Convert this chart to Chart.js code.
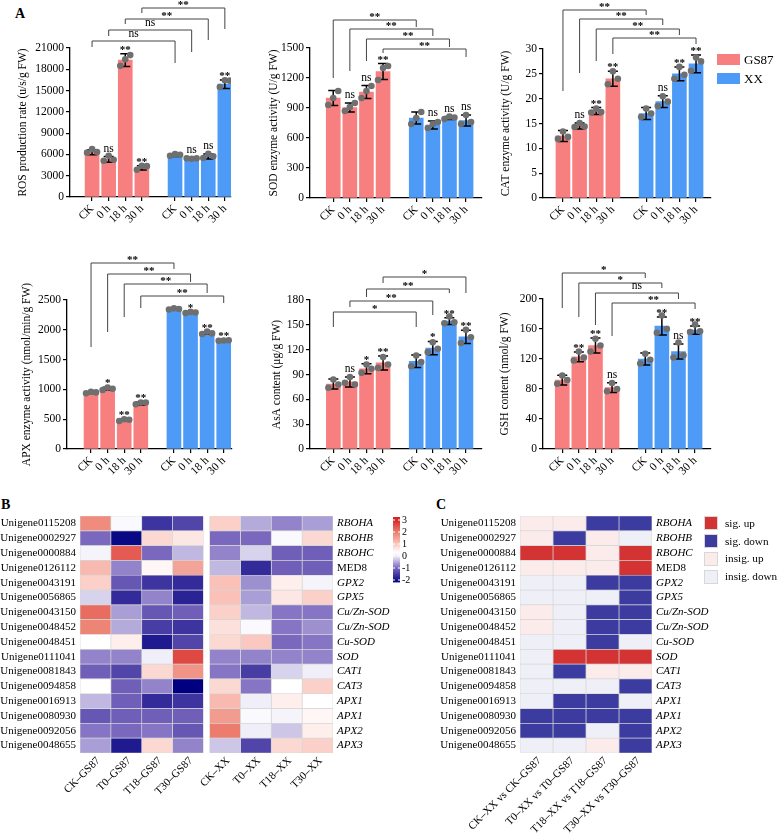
<!DOCTYPE html>
<html>
<head>
<meta charset="utf-8">
<script src="https://cdn.jsdelivr.net/npm/chart.js@4.4.1/dist/chart.umd.min.js"></script>
<style>
  body { margin: 0; background: #fff; }
  #page { position: relative; width: 778px; height: 834px; overflow: hidden; font-family: "Liberation Serif", serif; color: #000; background: #fff; }
  canvas { position: absolute; }
  .tag { position: absolute; font-weight: bold; font-size: 14px; }
  .lg { position: absolute; font-size: 13px; line-height: 13px; }
  .sw { position: absolute; }
  .lc { position: absolute; font-size: 11.2px; line-height: 14px; white-space: nowrap; }
  .lcs { position: absolute; width: 12px; height: 12px; border: 1px solid #d8d8d8; }
</style>
</head>
<body>
<div id="page">
  <div class="tag" style="left:15px;top:6px">A</div>
  <div class="tag" style="left:1px;top:497px">B</div>
  <div class="tag" style="left:436px;top:497px">C</div>

  <canvas id="ros" width="255" height="250" style="left:0;top:0"></canvas>
  <canvas id="sod" width="255" height="250" style="left:255px;top:0"></canvas>
  <canvas id="cat" width="220" height="250" style="left:495px;top:0"></canvas>
  <canvas id="apx" width="255" height="245" style="left:0;top:250px"></canvas>
  <canvas id="asa" width="255" height="245" style="left:255px;top:250px"></canvas>
  <canvas id="gsh" width="220" height="245" style="left:495px;top:250px"></canvas>
  <canvas id="hmB" width="425" height="339" style="left:0;top:495px"></canvas>
  <canvas id="hmC" width="353" height="339" style="left:425px;top:495px"></canvas>

  <div class="sw" style="left:717px;top:54px;width:23px;height:11px;background:#f77f7f"></div>
  <div class="lg" style="left:744px;top:53px">GS87</div>
  <div class="sw" style="left:717px;top:73px;width:23px;height:11px;background:#4e9bf7"></div>
  <div class="lg" style="left:744px;top:72px">XX</div>

  <div class="lcs" style="left:704px;top:516px;background:#d43333"></div>
  <div class="lc" style="left:725px;top:516px">sig. up</div>
  <div class="lcs" style="left:704px;top:534px;background:#3b3ba0"></div>
  <div class="lc" style="left:725px;top:534px">sig. down</div>
  <div class="lcs" style="left:704px;top:552px;background:#fbeceb"></div>
  <div class="lc" style="left:725px;top:551px">insig. up</div>
  <div class="lcs" style="left:704px;top:570px;background:#eff0f7"></div>
  <div class="lc" style="left:725px;top:569px">insig. down</div>
</div>

<script>
// ---- panel A data ----
const TIMES = ["CK", "0 h", "18 h", "30 h", "CK", "0 h", "18 h", "30 h"];
const GROUPS = ["GS87", "XX"];
const PAIRS = [[0, 4], [1, 5], [2, 6], [3, 7]];

const ROS_MEAN = [6300, 5300, 19300, 4100, 5850, 5400, 5700, 15900];
const ROS_SD = [350, 400, 900, 300, 150, 80, 350, 600];
const ROS_REPS = [[6250, 6750, 6350], [5100, 5800, 5250], [18500, 19400, 20000], [3850, 4400, 4350],
  [5800, 6050, 5950], [5450, 5380, 5450], [5500, 6100, 5750], [15500, 16450, 16400]];
const ROS_SIG = ["", "ns", "**", "**", "", "ns", "ns", "**"];
const ROS_BR = ["ns", "ns", "**", "**"];

const SOD_MEAN = [1000, 905, 1060, 1265, 800, 730, 800, 775];
const SOD_SD = [75, 45, 65, 80, 60, 40, 15, 55];
const SOD_REPS = [[930, 1000, 1070], [870, 910, 950], [1000, 1070, 1120], [1180, 1300, 1320],
  [740, 800, 860], [700, 740, 760], [790, 815, 805], [740, 830, 760]];
const SOD_SIG = ["", "ns", "ns", "**", "", "ns", "ns", "ns"];
const SOD_BR = ["**", "**", "**", "**"];

const CAT_MEAN = [12.5, 14.5, 17.5, 24.0, 17.0, 19.4, 25.0, 27.0];
const CAT_SD = [1.1, 0.6, 0.7, 1.5, 1.2, 1.2, 1.4, 1.8];
const CAT_REPS = [[11.9, 13.4, 12.3], [14.3, 15.1, 14.4], [17.2, 18.0, 17.3], [22.9, 25.5, 24.0],
  [16.3, 18.0, 17.0], [18.5, 20.5, 19.4], [24.0, 26.4, 24.8], [25.6, 28.3, 27.5]];
const CAT_SIG = ["", "ns", "**", "**", "", "ns", "**", "**"];
const CAT_BR = ["**", "**", "**", "**"];

const APX_MEAN = [945, 1010, 485, 765, 2350, 2290, 1945, 1820];
const APX_SD = [15, 25, 20, 25, 12, 12, 20, 5];
const APX_REPS = [[935, 960, 950], [990, 1030, 1010], [470, 500, 490], [750, 780, 780],
  [2340, 2360, 2350], [2280, 2300, 2290], [1930, 1970, 1940], [1815, 1820, 1825]];
const APX_SIG = ["", "*", "**", "**", "", "*", "**", "**"];
const APX_BR = ["**", "**", "**", "**"];

const ASA_MEAN = [78.5, 81, 97, 104, 106, 122, 154.5, 135.5];
const ASA_SD = [6, 6, 6, 8.5, 7.5, 8, 4, 8];
const ASA_REPS = [[74, 84, 78], [80, 87, 78], [92, 102, 97], [98, 111, 102],
  [100, 113, 105], [117, 129, 121], [152, 160, 153], [128, 144, 135]];
const ASA_SIG = ["", "ns", "*", "**", "", "*", "**", "**"];
const ASA_BR = ["*", "**", "**", "*"];

const GSH_MEAN = [92, 123, 138, 82, 120, 164, 130, 158.5];
const GSH_SD = [6.5, 6.5, 10, 6.5, 8, 12, 10, 5.5];
const GSH_REPS = [[87, 98, 92], [118, 130, 122], [130, 147, 138], [77, 88, 80],
  [114, 127, 119], [155, 178, 160], [122, 142, 125], [156, 166, 157]];
const GSH_SIG = ["", "**", "**", "ns", "", "**", "ns", "**"];
const GSH_BR = ["*", "*", "ns", "**"];

// ---- panel B / C data ----
const GENE_IDS = ["Unigene0115208", "Unigene0002927", "Unigene0000884", "Unigene0126112", "Unigene0043191",
  "Unigene0056865", "Unigene0043150", "Unigene0048452", "Unigene0048451", "Unigene0111041", "Unigene0081843",
  "Unigene0094858", "Unigene0016913", "Unigene0080930", "Unigene0092056", "Unigene0048655"];
const GENE_NAMES = ["RBOHA", "RBOHB", "RBOHC", "MED8", "GPX2", "GPX5", "Cu/Zn-SOD", "Cu/Zn-SOD", "Cu-SOD",
  "SOD", "CAT1", "CAT3", "APX1", "APX1", "APX2", "APX3"];

const B_LABELS = ["CK–GS87", "T0–GS87", "T18–GS87", "T30–GS87", "CK–XX", "T0–XX", "T18–XX", "T30–XX"];
const CK_GS87 = [1.8, -1.0, 0.1, 1.2, 0.9, -0.2, 2.2, 1.9, 0.3, -0.8, -1.1, 0.3, -0.4, -1.2, -0.9, -0.6];
const T0_GS87 = [0.2, -2.1, 2.4, -0.8, -1.2, -1.7, -0.6, -0.5, 0.5, -0.8, -1.4, -1.1, -1.1, -1.1, -1.0, -1.9];
const T18_GS87 = [-1.6, 0.8, -1.0, 0.4, -1.6, -0.8, -1.2, -1.5, -1.9, 0.0, 0.8, -0.8, -1.7, -1.1, -0.9, 0.8];
const T30_GS87 = [-1.4, 0.6, -0.4, 1.5, -1.7, -1.8, -1.1, -1.6, -1.4, 2.6, 1.7, -2.2, -1.6, -1.1, -1.2, -0.8];
const CK_XX = [0.9, -1.0, -0.8, -0.4, 1.1, 1.1, 0.9, 0.7, 0.8, -0.8, -0.9, 0.8, 1.2, 1.6, 2.0, -0.3];
const T0_XX = [-0.5, -1.0, -0.2, -1.7, -0.7, -0.6, -0.4, 0.2, 1.0, -0.8, -1.5, -0.9, 0.0, 0.2, 0.0, -1.4];
const T18_XX = [-0.8, 0.2, -1.1, -1.1, 0.5, 0.6, -0.9, -0.9, -1.0, -0.8, -0.2, 0.3, 0.5, 0.1, -0.3, 0.8];
const T30_XX = [-0.6, 0.8, -1.1, -1.1, 0.1, 0.9, -0.9, -0.7, -0.9, -0.8, 0.0, 0.9, 0.3, 0.4, 0.5, 0.9];
const COLORBAR_TICKS = [3, 2, 1, 0, -1, -2];

// 2 sig. up, -2 sig. down, 1 insig. up, -1 insig. down
const C_LABELS = ["CK–XX vs CK–GS87", "T0–XX vs T0–GS87", "T18–XX vs T18–GS87", "T30–XX vs T30–GS87"];
const C_CK = [1, 1, 2, 1, -1, -1, 1, 1, -1, -1, -1, -1, -1, -2, -2, -1];
const C_T0 = [1, -2, 2, 1, -1, -1, -1, -1, -1, 2, -2, -1, -2, -2, -2, -1];
const C_T18 = [-2, 1, 1, 1, -2, -1, -2, -2, -2, 2, 1, -1, -2, -2, -1, 1];
const C_T30 = [-2, -1, 2, 2, -2, -2, -2, -2, -1, 2, 1, -2, -1, -2, -2, -2];

// ---- styles ----
const FONT = "'Liberation Serif', serif";
const GS_COLOR = "#f77f7f";
const XX_COLOR = "#4e9bf7";
const DOT_COLOR = "#6f6f6f";
const SLOT = [0, 1, 2, 3, 5, 6, 7, 8];
const JITTER = [-0.3, 0, 0.3];
const C_COLORS = { "2": "#d43333", "-2": "#3b3ba0", "1": "#fbeceb", "-1": "#eff0f7" };
const HEAT_STOPS = [[-2.2, [0, 0, 128]], [-1, [122, 104, 190]], [0, [240, 238, 248]], [0.3, [255, 255, 255]],
  [1, [250, 200, 192]], [2, [236, 125, 110]], [3, [214, 39, 40]]];

Chart.defaults.font.family = FONT;
Chart.defaults.color = "#000";
Chart.defaults.animation = false;

function heat(v) {
  if (v <= HEAT_STOPS[0][0]) return "rgb(" + HEAT_STOPS[0][1].join(",") + ")";
  for (let i = 1; i < HEAT_STOPS.length; i++) {
    const [v1, c1] = HEAT_STOPS[i];
    const [v0, c0] = HEAT_STOPS[i - 1];
    if (v <= v1) {
      const t = (v - v0) / (v1 - v0);
      return "rgb(" + c0.map((c, k) => Math.round(c + (c1[k] - c) * t)).join(",") + ")";
    }
  }
  return "rgb(" + HEAT_STOPS[HEAT_STOPS.length - 1][1].join(",") + ")";
}

// layout of each bar panel: canvas box, chart area, y-scale width, x range, bracket geometry
const PANELS = {
  ros: { box: [0, 0, 255, 250], area: [70, 48, 231, 197], yW: 54, xMin: -1.33, xMax: 8.37, max: 21000, step: 3000,
    title: "ROS production rate (u/s/g FW)", mean: ROS_MEAN, sd: ROS_SD, reps: ROS_REPS, sig: ROS_SIG, br: ROS_BR,
    geo: [[-7, -1, 15], [-18, -12, 4], [-29, -24, -8], [-40, -35, -19]] },
  sod: { box: [255, 0, 255, 250], area: [310, 48, 482, 198], yW: 43, xMin: -1.4, xMax: 8.96, max: 1500, step: 300,
    title: "SOD enzyme activity (U/g FW)", mean: SOD_MEAN, sd: SOD_SD, reps: SOD_REPS, sig: SOD_SIG, br: SOD_BR,
    geo: [[-28, 30, -21], [-19, 23, -12], [-9, 13, -1], [1, 5, 9]] },
  cat: { box: [495, 0, 220, 250], area: [543, 49, 712, 198], yW: 44, xMin: -1.2, xMax: 8.9, max: 30, step: 5,
    title: "CAT enzyme activity (U/g FW)", mean: CAT_MEAN, sd: CAT_SD, reps: CAT_REPS, sig: CAT_SIG, br: CAT_BR,
    geo: [[-39, 42, -34], [-30, 24, -24], [-20, 12, -14], [-11, 5, -5]] },
  apx: { box: [0, 250, 255, 245], area: [67, 300, 232, 449], yW: 47, xMin: -1.45, xMax: 8.5, max: 2500, step: 500,
    title: "APX enzyme activity (nmol/min/g FW)", mean: APX_MEAN, sd: APX_SD, reps: APX_REPS, sig: APX_SIG, br: APX_BR,
    geo: [[-37, 47, -31], [-26, 32, -18], [-16, 17, -7], [-4, 8, 3]] },
  asa: { box: [255, 250, 255, 245], area: [310, 300, 482, 449], yW: 40, xMin: -1.41, xMax: 8.97, max: 180, step: 30,
    title: "AsA content (μg/g FW)", mean: ASA_MEAN, sd: ASA_SD, reps: ASA_REPS, sig: ASA_SIG, br: ASA_BR,
    geo: [[12, 27, 27], [1, 7, 15], [-11, -3, -7], [-23, -17, -7]] },
  gsh: { box: [495, 250, 220, 245], area: [543, 299, 712, 449], yW: 45, xMin: -1.16, xMax: 8.96, max: 200, step: 40,
    title: "GSH content (nmol/g FW)", mean: GSH_MEAN, sd: GSH_SD, reps: GSH_REPS, sig: GSH_SIG, br: GSH_BR,
    geo: [[-26, 9, -21], [-16, 18, -11], [-6, 26, 0], [4, 37, 10]] },
};
const X_H = 40;

function drawLabel(ctx, text, x, y) {
  // y is the line or error-bar top the label sits on
  if (text.indexOf("*") >= 0) {
    ctx.font = "bold 11px " + FONT;
    ctx.fillText(text, x, y + 1);
  } else {
    ctx.font = "11.5px " + FONT;
    ctx.fillText(text, x, y - 3);
  }
}

const annotPlugin = {
  id: "annot",
  afterDatasetDraw(chart, args) {
    if (args.meta.type !== "bar") return;
    const p = PANELS[chart.canvas.id];
    const ctx = chart.ctx, ys = chart.scales.y;
    const off = args.index * 4;
    ctx.save();
    ctx.strokeStyle = "#000";
    ctx.lineWidth = 1.5;
    args.meta.data.forEach((el, j) => {
      const m = p.mean[off + j], s = p.sd[off + j];
      const top = ys.getPixelForValue(m + s), bot = ys.getPixelForValue(m - s);
      ctx.beginPath();
      ctx.moveTo(el.x, top); ctx.lineTo(el.x, bot);
      ctx.moveTo(el.x - 5, top); ctx.lineTo(el.x + 5, top);
      ctx.moveTo(el.x - 5, bot); ctx.lineTo(el.x + 5, bot);
      ctx.stroke();
    });
    ctx.restore();
  },
  afterDatasetsDraw(chart) {
    const p = PANELS[chart.canvas.id];
    const ctx = chart.ctx, xs = chart.scales.x, ys = chart.scales.y;
    const top = chart.chartArea.top;
    ctx.save();
    ctx.fillStyle = "#000";
    ctx.textAlign = "center";
    ctx.textBaseline = "alphabetic";
    p.sig.forEach((t, i) => {
      if (!t) return;
      const x = xs.getPixelForValue(SLOT[i]);
      const y = ys.getPixelForValue(p.mean[i] + p.sd[i]);
      drawLabel(ctx, t, x, y - 2);
    });
    ctx.strokeStyle = "#444";
    ctx.lineWidth = 1;
    PAIRS.forEach(([a, b], k) => {
      const [ly, la, lb] = p.geo[k];
      const x1 = xs.getPixelForValue(SLOT[a]), x2 = xs.getPixelForValue(SLOT[b]);
      ctx.beginPath();
      ctx.moveTo(x1, top + la);
      ctx.lineTo(x1, top + ly);
      ctx.lineTo(x2, top + ly);
      ctx.lineTo(x2, top + lb);
      ctx.stroke();
      drawLabel(ctx, p.br[k], (x1 + x2) / 2, top + ly - 1);
    });
    ctx.restore();
  },
};

function barPanel(id) {
  const p = PANELS[id];
  const [bx, by, bw, bh] = p.box;
  const [l, t, r, b] = p.area;
  const dots = [];
  p.reps.forEach((reps, i) => reps.forEach((v, k) => dots.push({ x: SLOT[i] + JITTER[k], y: v })));

  new Chart(document.getElementById(id), {
    type: "bar",
    data: {
      datasets: [
        { label: GROUPS[0], data: p.mean.slice(0, 4).map((v, i) => ({ x: SLOT[i], y: v })),
          backgroundColor: GS_COLOR, grouped: false, barThickness: 14, order: 2 },
        { label: GROUPS[1], data: p.mean.slice(4).map((v, i) => ({ x: SLOT[i + 4], y: v })),
          backgroundColor: XX_COLOR, grouped: false, barThickness: 14, order: 2 },
        { type: "scatter", data: dots, backgroundColor: DOT_COLOR, borderWidth: 0, pointRadius: 3.3, order: 1 },
      ],
    },
    options: {
      responsive: false,
      layout: { padding: { left: l - bx - p.yW, top: t - by, right: bx + bw - r, bottom: by + bh - b - X_H } },
      plugins: { legend: { display: false }, tooltip: { enabled: false } },
      scales: {
        x: {
          type: "linear", min: p.xMin, max: p.xMax, offset: false,
          afterBuildTicks: (s) => { s.ticks = SLOT.map((v) => ({ value: v })); },
          afterFit: (s) => { s.height = X_H; s.paddingLeft = 0; s.paddingRight = 0; },
          ticks: { callback: (v, i) => TIMES[i], autoSkip: false, minRotation: 45, maxRotation: 45,
            font: { size: 11.5 }, color: "#000", padding: 1 },
          grid: { drawOnChartArea: false, offset: false, tickLength: 4, color: "#000", lineWidth: 1.2 },
          border: { color: "#000", width: 1.3 },
        },
        y: {
          min: 0, max: p.max,
          afterFit: (s) => { s.width = p.yW; },
          ticks: { stepSize: p.step, callback: (v) => String(v), font: { size: 11.5 }, color: "#000", padding: 2 },
          grid: { drawOnChartArea: false, tickLength: 4, color: "#000", lineWidth: 1.2 },
          border: { color: "#000", width: 1.3 },
          title: { display: true, text: p.title, font: { size: 11.5 }, color: "#000", padding: 0 },
        },
      },
    },
    plugins: [annotPlugin],
  });
}

Object.keys(PANELS).forEach(barPanel);

// ---- heatmaps ----
const B_COLUMNS = [CK_GS87, T0_GS87, T18_GS87, T30_GS87, CK_XX, T0_XX, T18_XX, T30_XX];
const B_GAP = 0.2;
const C_COLUMNS = [C_CK, C_T0, C_T18, C_T30];
const HEAT_XLABELS = { hmB: B_LABELS, hmC: C_LABELS };

const colorbarPlugin = {
  id: "colorbar",
  afterDraw(chart) {
    const ctx = chart.ctx;
    const x = 393, w = 7, y0 = 25, unit = 12; // value 3 sits at y0
    const vTop = 3.25, vBot = -2.2;
    const top = y0 - (vTop - 3) * unit, bot = y0 + (3 - vBot) * unit;
    const g = ctx.createLinearGradient(0, top, 0, bot);
    for (let k = 0; k <= 40; k++) {
      const v = vTop - (vTop - vBot) * k / 40;
      g.addColorStop(k / 40, heat(v));
    }
    ctx.save();
    ctx.fillStyle = g;
    ctx.fillRect(x, top, w, bot - top);
    ctx.strokeStyle = "#fff";
    ctx.lineWidth = 1;
    ctx.fillStyle = "#000";
    ctx.font = "10px " + FONT;
    ctx.textBaseline = "middle";
    COLORBAR_TICKS.forEach((v) => {
      const y = y0 + (3 - v) * unit;
      ctx.beginPath();
      ctx.moveTo(x, y); ctx.lineTo(x + 2, y);
      ctx.moveTo(x + w - 2, y); ctx.lineTo(x + w, y);
      ctx.stroke();
      ctx.fillText(String(v), x + w + 2, y);
    });
    ctx.restore();
  },
};

// rotated column labels, anchored just under each column centre
const colLabelPlugin = {
  id: "colLabels",
  afterDraw(chart) {
    const labels = HEAT_XLABELS[chart.canvas.id];
    const xs = chart.scales.x, ctx = chart.ctx;
    const bottom = chart.chartArea.bottom;
    ctx.save();
    ctx.fillStyle = "#000";
    ctx.font = "11px " + FONT;
    ctx.textAlign = "right";
    ctx.textBaseline = "middle";
    xs.ticks.forEach((t, i) => {
      ctx.save();
      ctx.translate(xs.getPixelForValue(t.value) + 3, bottom + 6);
      ctx.rotate(-Math.PI / 4);
      ctx.fillText(labels[i], 0, 0);
      ctx.restore();
    });
    ctx.restore();
  },
};

function heatScales(xMax, tickPos, leftW, rightW) {
  return {
    x: {
      type: "linear", min: 0, max: xMax,
      afterBuildTicks: (s) => { s.ticks = tickPos.map((v) => ({ value: v })); },
      afterFit: (s) => { s.height = 70; s.paddingLeft = 0; s.paddingRight = 0; },
      ticks: { display: false },
      grid: { display: false, drawTicks: false },
      border: { display: false },
    },
    y: {
      type: "category", offset: true,
      afterFit: (s) => { s.width = leftW; },
      ticks: { autoSkip: false, font: { size: 11 }, color: "#000", padding: 4 },
      grid: { display: false, drawTicks: false },
      border: { display: false },
    },
    y2: {
      type: "category", labels: GENE_NAMES, position: "right", offset: true,
      afterFit: (s) => { s.width = rightW; },
      ticks: { autoSkip: false, color: "#000", padding: 4,
        font: (c) => ({ size: 11, family: FONT, style: GENE_NAMES[c.index] === "MED8" ? "normal" : "italic" }) },
      grid: { display: false, drawTicks: false },
      border: { display: false },
    },
  };
}

const heatBar = { grouped: false, barPercentage: 1, categoryPercentage: 1, borderWidth: 0.7,
  borderColor: "#d6d6d6", borderSkipped: false };

new Chart(document.getElementById("hmB"), {
  type: "bar",
  data: {
    labels: GENE_IDS,
    datasets: B_COLUMNS.map((col, c) => {
      const x0 = c + (c >= 4 ? B_GAP : 0);
      return { data: col.map(() => [x0, x0 + 1]), backgroundColor: col.map(heat) };
    }),
  },
  options: {
    indexAxis: "y",
    responsive: false,
    layout: { padding: { left: 0, top: 21, right: 2, bottom: 11 } },
    datasets: { bar: heatBar },
    plugins: { legend: { display: false }, tooltip: { enabled: false } },
    scales: heatScales(8 + B_GAP, B_COLUMNS.map((_, c) => c + (c >= 4 ? B_GAP : 0) + 0.5), 80, 90),
  },
  plugins: [colorbarPlugin, colLabelPlugin],
});

new Chart(document.getElementById("hmC"), {
  type: "bar",
  data: {
    labels: GENE_IDS,
    datasets: C_COLUMNS.map((col, c) => ({
      data: col.map(() => [c, c + 1]),
      backgroundColor: col.map((v) => C_COLORS[String(v)]),
    })),
  },
  options: {
    indexAxis: "y",
    responsive: false,
    layout: { padding: { left: 0, top: 21, right: 66, bottom: 11 } },
    datasets: { bar: heatBar },
    plugins: { legend: { display: false }, tooltip: { enabled: false } },
    scales: heatScales(4, C_COLUMNS.map((_, c) => c + 0.5), 95, 60),
  },
  plugins: [colLabelPlugin],
});
</script>
</body>
</html>
